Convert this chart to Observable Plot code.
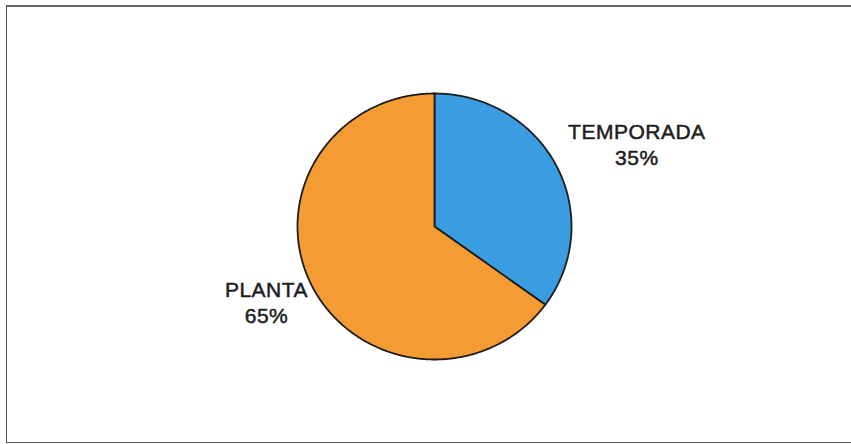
<!DOCTYPE html>
<html><head><meta charset="utf-8">
<script src="https://cdn.jsdelivr.net/npm/d3@7"></script>
<script src="https://cdn.jsdelivr.net/npm/@observablehq/plot@0.6"></script>
<style>
html,body{margin:0;padding:0;background:#fff;overflow:hidden}
#wrap{position:relative;width:851px;height:444px;overflow:hidden}
#box{position:absolute;left:6px;top:5px;width:900px;height:438px;border:1.5px solid #555;border-top:2px solid #666;box-sizing:border-box;pointer-events:none}
#chart svg text{letter-spacing:0.5px}
</style></head><body>
<div id="wrap"><div id="chart"></div><div id="box"></div></div>
<script>
// Data
const categories = ["TEMPORADA", "PLANTA"];
const shares = [35, 65];
const sliceColors = ["#3b9de1", "#f49c33"];

// Layout constants
const cx = 434, cy = 226, rx = 137, ry = 133;
const labelLayout = {
  TEMPORADA: {k: 1.6, dx: 7, dy: 14},
  PLANTA: {k: 1.36, dx: -2, dy: -7}
};

const arcs = d3.pie().sort(null).value(d => d)(shares);
const points = [];
arcs.forEach((a, i) => {
  const cat = categories[i];
  points.push({cat, x: 0, y: 0});
  const steps = Math.max(2, Math.ceil((a.endAngle - a.startAngle) / (Math.PI / 360)));
  for (let s = 0; s <= steps; s++) {
    const t = a.startAngle + (a.endAngle - a.startAngle) * s / steps;
    points.push({cat, x: Math.sin(t), y: Math.cos(t)});
  }
  points.push({cat, x: 0, y: 0});
});

const labels = arcs.map((a, i) => {
  const cat = categories[i];
  const L = labelLayout[cat];
  const mid = (a.startAngle + a.endAngle) / 2;
  return {
    x: L.k * Math.sin(mid) + L.dx / rx,
    y: L.k * Math.cos(mid) - L.dy / ry,
    text: `${cat}\n${shares[i]}%`
  };
});

const chart = Plot.plot({
  width: 851,
  height: 444,
  margin: 0,
  style: {background: "transparent", fontFamily: "'Liberation Sans', Arial, sans-serif"},
  x: {domain: [-1, 1], range: [cx - rx, cx + rx], axis: null},
  y: {domain: [-1, 1], range: [cy + ry, cy - ry], axis: null},
  color: {domain: categories, range: sliceColors},
  marks: [
    Plot.line(points, {x: "x", y: "y", z: "cat", fill: "cat", stroke: "#1c1c1c", strokeWidth: 1.8, strokeLinejoin: "round"}),
    Plot.text(labels, {x: "x", y: "y", text: "text", fontSize: 21, lineHeight: 1.24, fill: "#1e1e1e", stroke: "#1e1e1e", strokeWidth: 0.5, textAnchor: "middle", lineAnchor: "middle"})
  ]
});
document.getElementById("chart").appendChild(chart);
</script>
</body></html>
